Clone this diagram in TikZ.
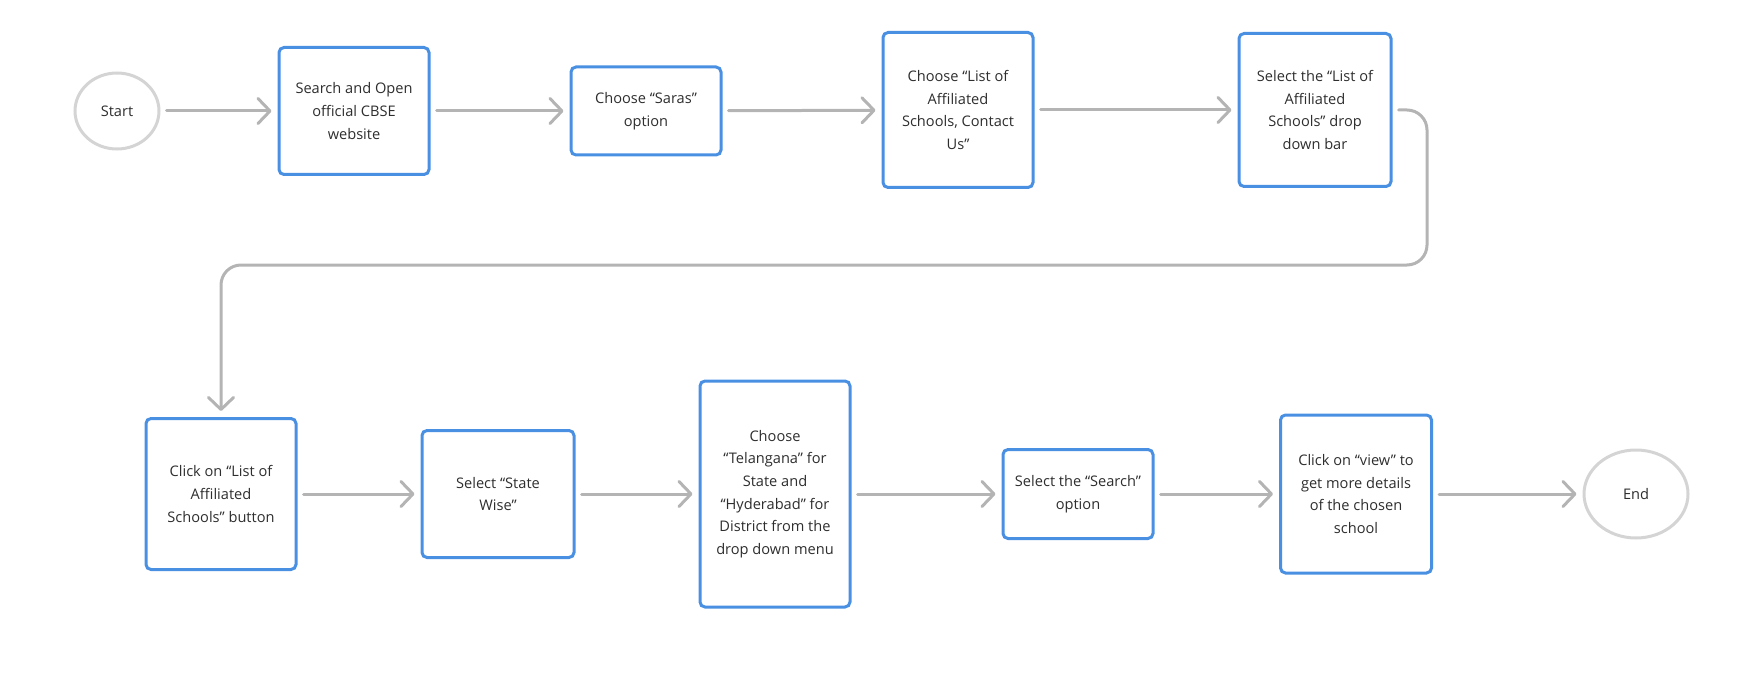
\documentclass[tikz,border=0pt]{standalone}
\usepackage{fontspec}
\setmainfont{Open Sans}
\usetikzlibrary{arrows.meta,shapes.geometric}
\definecolor{boxblue}{HTML}{4A90E2}
\definecolor{linegray}{HTML}{B4B4B4}
\definecolor{termgray}{HTML}{D4D4D4}
\definecolor{txt}{HTML}{2E2E2E}
\begin{document}
\begin{tikzpicture}[x=1pt,y=-1pt,
  every node/.style={font=\fontsize{14.6}{22.6}\selectfont, text=txt, align=center, inner sep=0pt},
  stepbox/.style={draw=boxblue, line width=3pt, rounded corners=5pt, fill=white},
  term/.style={ellipse, draw=termgray, line width=3pt, fill=white},
  conn/.style={draw=linegray, line width=3pt, line cap=round, line join=round,
    -{Straight Barb[length=12pt,width=25pt,round]}, shorten <=6pt, shorten >=6pt}]
\useasboundingbox (0,0) rectangle (1761,687);
% row 1
\node[term, minimum width=84pt, minimum height=76pt] (start) at (117,111) {Start};
\node[stepbox, minimum width=150pt, minimum height=127pt] (b1) at (354,111) {Search and Open\\official CBSE\\website};
\node[stepbox, minimum width=150pt, minimum height=88pt] (b2) at (646,111) {Choose “Saras”\\option};
\node[stepbox, minimum width=150pt, minimum height=155pt] (b3) at (958,110) {Choose “List of\\Affiliated\\Schools, Contact\\Us”};
\node[stepbox, minimum width=152pt, minimum height=153pt] (b4) at (1315,110) {Select the “List of\\Affiliated\\Schools” drop\\down bar};
% row 2
\node[stepbox, minimum width=150pt, minimum height=151pt] (b5) at (221,494) {Click on “List of\\Affiliated\\Schools” button};
\node[stepbox, minimum width=152pt, minimum height=127pt] (b6) at (498,494) {Select “State\\Wise”};
\node[stepbox, minimum width=150pt, minimum height=226pt] (b7) at (775,494) {Choose\\“Telangana” for\\State and\\“Hyderabad” for\\District from the\\drop down menu};
\node[stepbox, minimum width=150pt, minimum height=89pt] (b8) at (1078,494) {Select the “Search”\\option};
\node[stepbox, minimum width=151pt, minimum height=158pt] (b9) at (1356,494) {Click on “view” to\\get more details\\of the chosen\\school};
\node[term, minimum width=104pt, minimum height=88pt] (end) at (1636,494) {End};
% connectors
\draw[conn] (start) -- (b1);
\draw[conn] (b1) -- (b2);
\draw[conn] (b2) -- (b3);
\draw[conn] (b3.east |- b4.west) -- (b4.west);
\coordinate (k1) at (1427,265);
\draw[conn, rounded corners=20pt] (b4.east) -- (b4.east -| k1) -- (k1) -- (k1 -| b5.north) -- (b5.north);
\draw[conn] (b5) -- (b6);
\draw[conn] (b6) -- (b7);
\draw[conn] (b7) -- (b8);
\draw[conn] (b8) -- (b9);
\draw[conn] (b9) -- (end);
\end{tikzpicture}
\end{document}
